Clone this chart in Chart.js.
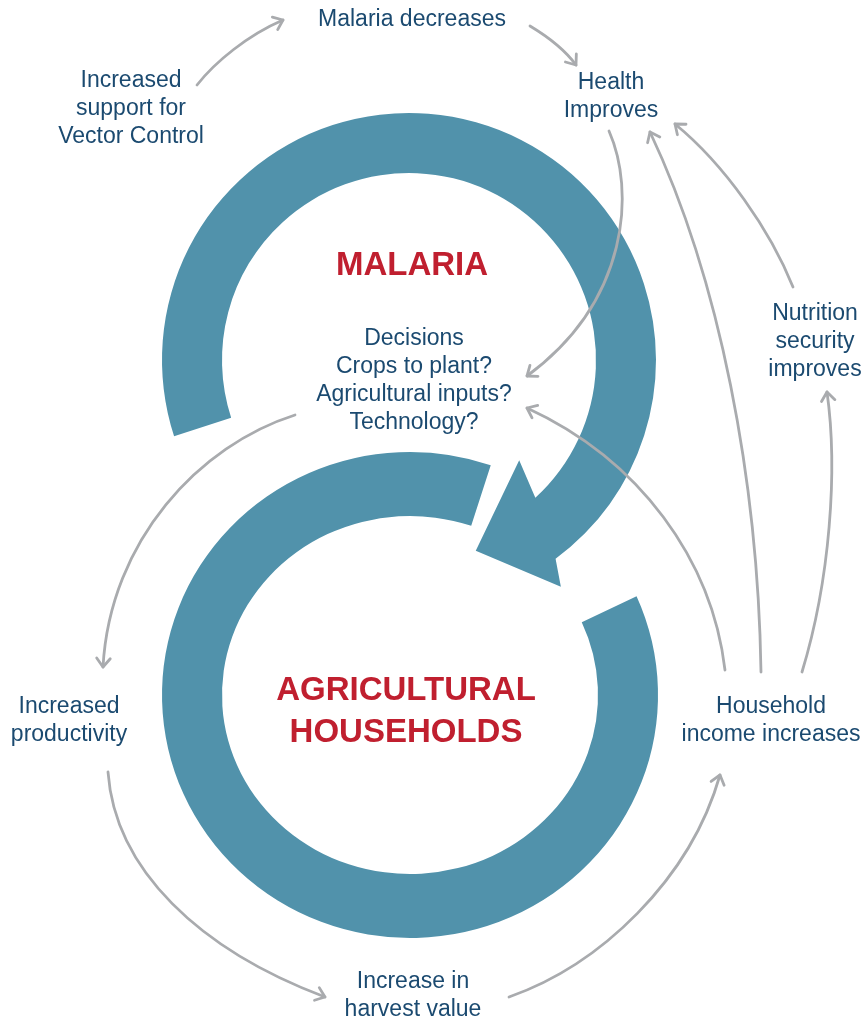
<!DOCTYPE html>
<html>
<head>
<meta charset="utf-8">
<script src="https://cdn.jsdelivr.net/npm/chart.js@4.4.1/dist/chart.umd.min.js"></script>
<style>
  html, body { margin: 0; padding: 0; background: #fff; }
  #wrap { width: 864px; height: 1023px; position: relative; }
</style>
</head>
<body>
<div id="wrap"><canvas id="loopChart"></canvas></div>
<script>
// diagram content (data units = a 864 x 1023 plane)
const labels = [
  ['Malaria decreases'],
  ['Health', 'Improves'],
  ['Increased', 'support for', 'Vector Control'],
  ['Decisions', 'Crops to plant?', 'Agricultural inputs?', 'Technology?'],
  ['Nutrition', 'security', 'improves'],
  ['Increased', 'productivity'],
  ['Household', 'income increases'],
  ['Increase in', 'harvest value']
];
const labelX = [412, 611, 131, 414, 815, 69, 771, 413];
const labelY = [26, 89, 87, 345, 320, 713, 713, 988];

const titles = [['MALARIA'], ['AGRICULTURAL', 'HOUSEHOLDS']];
const titleX = [412, 406];
const titleY = [275, 700];

// feedback links as cubic curves: start, control 1, control 2, end
const links = [
  [197, 85, 215, 62, 248, 35, 283, 20],
  [530, 26, 550, 38, 565, 50, 576, 65],
  [609, 131, 635, 190, 630, 300, 527, 376],
  [725, 670, 712, 560, 640, 460, 527, 408],
  [761, 672, 758, 480, 720, 280, 650, 132],
  [802, 672, 830, 580, 838, 470, 827, 392],
  [793, 287, 770, 230, 725, 165, 675, 124],
  [295, 415, 200, 445, 110, 540, 103, 667],
  [108, 772, 115, 870, 200, 950, 325, 997],
  [509, 997, 600, 965, 690, 880, 720, 775]
];

// the two big loops: centre, outer radii, inner radii, start / end angle (deg)
const malariaLoop = { cx: 409, cy: 360, ro: 247, ri: 187, from: 162, to: 413.6 };
const malariaHead = [[273, 56.2], [202, 70.7], [149, 42.3], [187, 47.5]];
const farmLoop = { cx: 410, cy: 695, rxo: 248, ryo: 243, rxi: 188, ryi: 179, from: -24, to: 289 };

const TEAL = '#5192ab';
const NAVY = '#1b4a70';
const RED = '#c01f2f';
const GREY = '#a9abae';
const deg = Math.PI / 180;

const diagramPlugin = {
  id: 'diagram',
  beforeDatasetsDraw(chart) {
    const ctx = chart.ctx;
    const sx = chart.scales.x, sy = chart.scales.y;
    const px = v => sx.getPixelForValue(v);
    const py = v => sy.getPixelForValue(v);
    const lx = r => px(r) - px(0);
    const ly = r => py(r) - py(0);

    ctx.save();
    ctx.fillStyle = TEAL;

    // malaria loop with arrow head
    const m = malariaLoop;
    const mcx = px(m.cx), mcy = py(m.cy);
    ctx.beginPath();
    ctx.arc(mcx, mcy, lx(m.ro), m.from * deg, m.to * deg, false);
    malariaHead.forEach(([r, a], i) => {
      const x = px(m.cx + r * Math.cos(a * deg));
      const y = py(m.cy + r * Math.sin(a * deg));
      if (i < 3) ctx.lineTo(x, y);
    });
    const last = malariaHead[3];
    ctx.arc(mcx, mcy, lx(m.ri), (last[1] + 360) * deg, m.from * deg, true);
    ctx.closePath();
    ctx.fill();

    // agricultural households loop
    const f = farmLoop;
    const fcx = px(f.cx), fcy = py(f.cy);
    ctx.beginPath();
    ctx.ellipse(fcx, fcy, lx(f.rxo), Math.abs(ly(f.ryo)), 0, f.from * deg, f.to * deg, false);
    ctx.ellipse(fcx, fcy, lx(f.rxi), Math.abs(ly(f.ryi)), 0, f.to * deg, f.from * deg, true);
    ctx.closePath();
    ctx.fill();

    // links
    ctx.strokeStyle = GREY;
    ctx.lineWidth = 2.8;
    ctx.lineCap = 'round';
    ctx.lineJoin = 'round';
    links.forEach(l => {
      const p = [];
      for (let i = 0; i < 8; i += 2) p.push([px(l[i]), py(l[i + 1])]);
      ctx.beginPath();
      ctx.moveTo(p[0][0], p[0][1]);
      ctx.bezierCurveTo(p[1][0], p[1][1], p[2][0], p[2][1], p[3][0], p[3][1]);
      ctx.stroke();
      const ang = Math.atan2(p[3][1] - p[2][1], p[3][0] - p[2][0]);
      const len = 11, spread = 38 * deg;
      ctx.beginPath();
      ctx.moveTo(p[3][0] - len * Math.cos(ang - spread), p[3][1] - len * Math.sin(ang - spread));
      ctx.lineTo(p[3][0], p[3][1]);
      ctx.lineTo(p[3][0] - len * Math.cos(ang + spread), p[3][1] - len * Math.sin(ang + spread));
      ctx.stroke();
    });
    ctx.restore();
  },
  afterDatasetsDraw(chart) {
    const ctx = chart.ctx;
    const sx = chart.scales.x, sy = chart.scales.y;
    ctx.save();
    ctx.textAlign = 'center';
    ctx.textBaseline = 'alphabetic';

    ctx.fillStyle = NAVY;
    ctx.font = '23px "Liberation Sans", Arial, Helvetica, sans-serif';
    labels.forEach((lines, i) => {
      lines.forEach((t, j) => {
        ctx.fillText(t, sx.getPixelForValue(labelX[i]), sy.getPixelForValue(labelY[i] + j * 28));
      });
    });

    ctx.fillStyle = RED;
    ctx.font = 'bold 33px "Liberation Sans", Arial, Helvetica, sans-serif';
    titles.forEach((lines, i) => {
      lines.forEach((t, j) => {
        ctx.fillText(t, sx.getPixelForValue(titleX[i]), sy.getPixelForValue(titleY[i] + j * 42));
      });
    });
    ctx.restore();
  }
};

const ctx = document.getElementById('loopChart').getContext('2d');
window.loopChart = new Chart(ctx, {
  type: 'scatter',
  data: {
    datasets: [{
      label: 'nodes',
      data: labelX.map((x, i) => ({ x: x, y: labelY[i] })),
      pointRadius: 0,
      pointHoverRadius: 0
    }]
  },
  options: {
    responsive: true,
    maintainAspectRatio: false,
    animation: false,
    layout: { padding: 0 },
    plugins: { legend: { display: false }, tooltip: { enabled: false } },
    scales: {
      x: { type: 'linear', min: 0, max: 864, display: false },
      y: { type: 'linear', min: 0, max: 1023, reverse: true, display: false }
    }
  },
  plugins: [diagramPlugin]
});
</script>
</body>
</html>
